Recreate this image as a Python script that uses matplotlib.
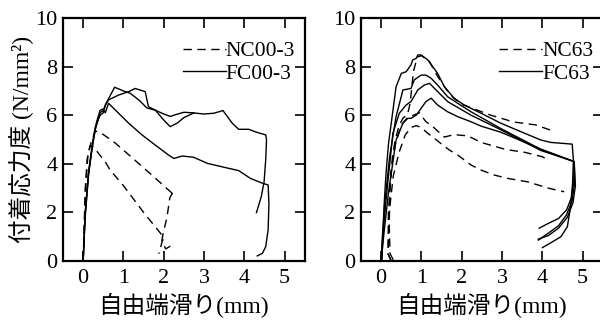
import matplotlib
matplotlib.use("Agg")
import matplotlib.pyplot as plt
from matplotlib.lines import Line2D

plt.rcParams['font.family'] = ['Liberation Serif', 'Noto Sans CJK JP']

# ---- left panel: NC00-3 (dashed) / FC00-3 (solid) ----
nc00_x = [
    [0.0, 0.02, 0.05, 0.1, 0.2, 0.3, 0.42, 0.8, 1.25, 1.75, 2.2, 2.25, 2.15, 2.08, 1.98, 1.95, 2.05, 2.2],
    [0.0, 0.02, 0.06, 0.12, 0.17, 0.26, 0.38, 0.55, 0.67, 1.0, 1.5, 1.92, 2.0, 1.96, 1.92, 1.88],
]
nc00_y = [
    [0.0, 1.0, 2.9, 4.2, 4.9, 5.35, 5.3, 4.85, 4.2, 3.47, 2.8, 2.9, 2.6, 1.8, 1.1, 0.8, 0.5, 0.65],
    [0.0, 1.0, 3.0, 4.4, 4.75, 4.7, 4.43, 4.08, 3.74, 3.1, 2.0, 1.14, 0.95, 0.8, 0.55, 0.3],
]
fc00_x = [
    [0.0, 0.02, 0.05, 0.13, 0.22, 0.30, 0.42, 0.5, 0.57, 0.67, 0.78, 1.0, 1.17, 1.4, 1.58, 1.8, 2.0,
     2.16, 2.35, 2.5, 2.7, 3.0, 3.24, 3.47, 3.70, 3.86, 4.11, 4.3, 4.53, 4.55, 4.53, 4.49, 4.42, 4.30],
    [0.0, 0.02, 0.05, 0.13, 0.22, 0.3, 0.42, 0.5, 0.55, 0.63, 0.88, 1.13, 1.29, 1.54, 1.62, 1.79,
     2.0, 2.16, 2.33, 2.5, 2.75],
    [0.0, 0.02, 0.06, 0.14, 0.24, 0.33, 0.42, 0.48, 0.55, 0.63, 0.88, 1.13, 1.46, 1.79, 2.12, 2.25,
     2.46, 2.74, 3.08, 3.49, 3.86, 4.15, 4.45, 4.59, 4.61, 4.59, 4.53, 4.45, 4.32],
]
fc00_y = [
    [0.0, 0.8, 1.9, 3.5, 4.6, 5.4, 6.1, 6.2, 6.5, 6.8, 7.15, 7.0, 6.9, 6.6, 6.3, 6.2, 6.05,
     5.95, 6.05, 6.12, 6.1, 6.05, 6.08, 6.19, 5.67, 5.42, 5.42, 5.3, 5.19, 4.98, 4.16, 3.26, 2.65, 1.99],
    [0.0, 0.8, 2.0, 3.6, 4.7, 5.5, 6.0, 6.1, 6.4, 6.63, 6.83, 6.97, 7.1, 6.97, 6.35, 6.21,
     5.8, 5.53, 5.67, 5.9, 6.1],
    [0.0, 0.8, 2.0, 3.7, 4.9, 5.7, 6.2, 6.25, 6.1, 6.49, 6.08, 5.67, 5.19, 4.77, 4.36, 4.22,
     4.32, 4.27, 4.02, 3.86, 3.72, 3.40, 3.2, 3.13, 2.37, 1.28, 0.59, 0.32, 0.21],
]

# ---- right panel: NC63 (dashed) / FC63 (solid) ----
nc63_x = [
    [0.3, 0.22, 0.2, 0.22, 0.28, 0.35, 0.45, 0.55, 0.65, 0.72, 0.8, 0.9, 1.0, 1.2, 1.4, 1.6, 1.8,
     2.0, 2.4, 2.72, 3.29, 3.84, 4.26],
    [0.25, 0.17, 0.18, 0.25, 0.35, 0.5, 0.65, 0.8, 0.95, 1.1, 1.3, 1.57, 1.8, 2.15, 2.48, 3.09,
     3.57, 4.0, 4.1],
    [0.25, 0.17, 0.2, 0.3, 0.45, 0.6, 0.75, 0.87, 0.99, 1.16, 1.32, 1.53, 1.69, 1.9, 2.06, 2.23,
     2.48, 2.8, 3.14, 3.63, 4.17, 4.54],
]
nc63_y = [
    [0.05, 0.3, 1.5, 3.0, 4.3, 5.0, 5.6, 5.9, 6.0, 6.5, 7.8, 8.4, 8.45, 8.2, 7.6, 7.1, 6.7,
     6.45, 6.2, 6.0, 5.72, 5.6, 5.35],
    [0.0, 0.3, 2.0, 3.8, 4.8, 5.6, 5.9, 6.0, 6.1, 5.75, 5.5, 5.1, 5.2, 5.15, 4.88, 4.59,
     4.47, 4.29, 4.2],
    [0.0, 0.3, 2.0, 3.5, 4.5, 5.2, 5.5, 5.57, 5.5, 5.25, 5.05, 4.77, 4.57, 4.36, 4.16, 3.95,
     3.74, 3.54, 3.40, 3.26, 2.99, 2.85],
]
fc63_x = [
    [0.02, 0.04, 0.08, 0.12, 0.18, 0.25, 0.37, 0.5, 0.62, 0.74, 0.78, 0.87, 0.91, 0.99, 1.16, 1.28,
     1.40, 1.57, 1.81, 2.06, 2.48, 2.97, 3.47, 3.96, 4.21, 4.74, 4.77, 4.75, 4.70, 4.62, 4.46, 4.21, 4.0],
    [0.0, 0.03, 0.08, 0.21, 0.37, 0.54, 0.74, 0.82, 0.99, 1.11, 1.24, 1.40, 1.65, 1.90, 2.23, 2.97,
     3.96, 4.79, 4.78, 4.72, 4.6, 4.4, 4.15, 3.92],
    [0.0, 0.04, 0.12, 0.29, 0.45, 0.62, 0.74, 0.91, 1.07, 1.20, 1.36, 1.65, 1.94, 2.23, 2.97, 3.96,
     4.79, 4.8, 4.74, 4.6, 4.4, 4.15, 3.9],
    [0.0, 0.06, 0.18, 0.37, 0.54, 0.66, 0.74, 0.87, 0.99, 1.11, 1.24, 1.40, 1.65, 1.90, 2.23, 2.48,
     2.97, 3.47, 3.96, 4.79, 4.82, 4.76, 4.62, 4.4, 4.15, 3.9],
]
fc63_y = [
    [0.0, 1.0, 2.5, 3.6, 4.8, 5.67, 7.17, 7.72, 7.79, 8.07, 8.27, 8.34, 8.48, 8.48, 8.27, 8.0,
     7.72, 7.17, 6.7, 6.42, 6.08, 5.67, 5.32, 4.98, 4.88, 4.81, 4.16, 3.2, 2.23, 1.41, 1.0, 0.75, 0.55],
    [0.0, 1.0, 2.23, 4.29, 5.94, 7.04, 7.1, 7.45, 7.65, 7.65, 7.52, 7.24, 6.76, 6.49, 6.14, 5.45,
     4.6, 4.09, 3.3, 2.6, 2.1, 1.75, 1.55, 1.35],
    [0.0, 1.0, 2.5, 5.25, 6.08, 6.42, 6.56, 7.04, 7.24, 7.31, 7.04, 6.56, 6.28, 6.0, 5.4, 4.55,
     4.09, 3.2, 2.5, 1.9, 1.45, 1.15, 0.86],
    [0.0, 1.0, 2.8, 4.98, 5.67, 5.87, 5.87, 6.0, 6.28, 6.56, 6.70, 6.42, 6.14, 5.94, 5.73, 5.55,
     5.3, 4.95, 4.6, 4.09, 3.1, 2.4, 1.8, 1.35, 1.05, 0.9],
]

xticks = [0, 1, 2, 3, 4, 5]
yticks = [0, 2, 4, 6, 8, 10]
xlabel = "自由端滑り(mm)"
ylabel = "付着応力度 (N/mm²)"

lw = 1.0
dash = (6, 4)

fig = plt.figure(figsize=(6, 3.22), dpi=100)
ax1 = fig.add_axes([0.105, 0.1894, 0.403, 0.7547])
ax2 = fig.add_axes([0.6017, 0.1894, 0.403, 0.7547])


def panel(ax, dx, dy, sx, sy, names):
    for x, y in zip(dx, dy):
        ax.plot(x, y, color='black', lw=lw, dashes=dash)
    for x, y in zip(sx, sy):
        ax.plot(x, y, color='black', lw=lw)
    ax.set_xlim(-0.5, 5.5)
    ax.set_ylim(0, 10)
    ax.set_xticks(xticks)
    ax.set_yticks(yticks)
    ax.tick_params(direction='in', top=True, right=True, length=7, width=1.2,
                   labelsize=16, pad=4)
    ax.tick_params(axis='x', pad=6)
    for s in ax.spines.values():
        s.set_linewidth(1.6)
    ax.set_xlabel(xlabel, fontsize=17, labelpad=3)
    hnd = [Line2D([], [], color='black', lw=lw, dashes=dash),
           Line2D([], [], color='black', lw=lw)]
    ax.legend(hnd, names, loc='upper right', bbox_to_anchor=(0.96, 0.905),
              frameon=False, fontsize=15.5, handlelength=2.0, handletextpad=0,
              borderpad=0, borderaxespad=0, labelspacing=0.12)


panel(ax1, nc00_x, nc00_y, fc00_x, fc00_y, ["NC00-3", "FC00-3"])
panel(ax2, nc63_x, nc63_y, fc63_x, fc63_y, ["NC63", "FC63"])
ax1.set_ylabel(ylabel, fontsize=17, labelpad=1)

fig.savefig("out.png", dpi=100)
